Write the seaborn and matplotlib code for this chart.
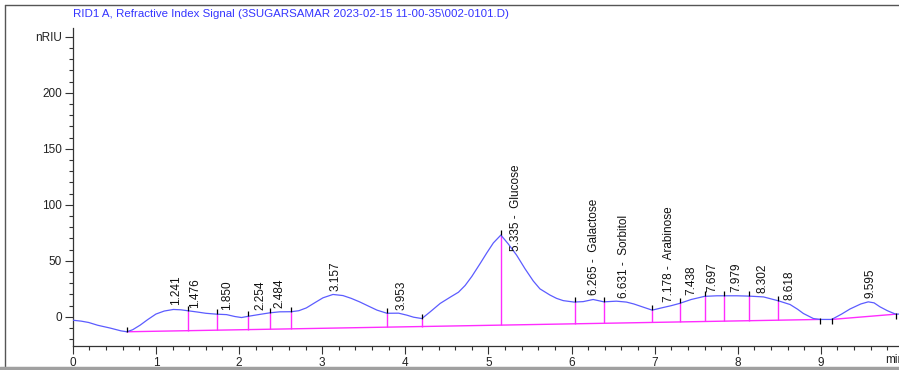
import numpy as np
import pandas as pd
import matplotlib
matplotlib.use("Agg")
import matplotlib.pyplot as plt
from matplotlib.lines import Line2D
from matplotlib.ticker import MultipleLocator, FixedLocator
import seaborn as sns

# Refractive index detector trace (time in min, signal in nRIU)
trace_t = [0.00, 0.10, 0.19, 0.30, 0.45, 0.58, 0.65, 0.72, 0.81, 0.90,
           1.00, 1.10, 1.21, 1.30, 1.39, 1.50, 1.60, 1.73, 1.85, 1.95,
           2.03, 2.11, 2.25, 2.37, 2.49, 2.63, 2.72, 2.81, 2.92, 3.01,
           3.13, 3.25, 3.35, 3.45, 3.56, 3.66, 3.78, 3.92, 4.02, 4.10,
           4.20, 4.30, 4.42, 4.55, 4.64, 4.72, 4.80, 4.90, 4.98, 5.06,
           5.15, 5.24, 5.34, 5.44, 5.54, 5.62, 5.74, 5.82, 5.90, 6.03,
           6.14, 6.26, 6.39, 6.54, 6.66, 6.75, 6.83, 6.97, 7.10, 7.20,
           7.30, 7.44, 7.60, 7.75, 7.83, 7.99, 8.14, 8.31, 8.49, 8.63,
           8.72, 8.79, 8.91, 8.99, 9.13, 9.25, 9.35, 9.48, 9.57, 9.64,
           9.71, 9.80, 9.90, 9.94]
trace_y = [-3.0, -3.8, -5.0, -7.5, -10.0, -12.5, -13.3, -11.5, -7.4, -2.5,
           2.5, 5.2, 6.6, 6.3, 5.4, 4.3, 3.2, 2.4, 2.0, 0.3,
           -0.6, 0.5, 2.2, 3.6, 4.5, 4.6, 5.5, 8.0, 13.0, 17.0,
           20.0, 19.0, 16.5, 13.4, 9.5, 6.0, 3.2, 3.3, 1.5, -0.3,
           -1.5, 4.5, 12.0, 18.0, 22.0, 28.0, 36.0, 47.5, 57.0, 66.0,
           73.0, 65.0, 55.0, 43.0, 32.0, 25.0, 19.5, 16.5, 14.5, 13.2,
           13.6, 15.5, 13.4, 14.0, 13.2, 11.5, 9.5, 6.0, 8.3, 10.0,
           12.0, 15.5, 18.3, 18.8, 18.8, 18.8, 18.5, 17.8, 14.3, 11.0,
           6.8, 3.0, -1.5, -2.3, -2.3, 2.5, 7.0, 11.5, 13.4, 12.5,
           9.0, 5.5, 2.4, 2.5]

# Integration baselines (two segments)
base1_t = [0.65, 8.99]
base1_y = [-13.3, -2.3]
base2_t = [9.13, 9.90]
base2_y = [-2.3, 2.4]

# Peak boundaries with drop lines to the baseline
drop_t = [1.39, 1.73, 2.11, 2.37, 2.63, 3.78, 4.20, 5.15, 6.04, 6.39,
          6.97, 7.30, 7.60, 7.83, 8.14, 8.49]
# Peak start/end markers drawn under the trace
under_t = [8.99, 9.13, 9.90]
over_extra_t = [0.65]

# Retention time labels
peak_rt = [1.241, 1.476, 1.850, 2.254, 2.484, 3.157, 3.953, 5.335, 6.265,
           6.631, 7.178, 7.438, 7.697, 7.979, 8.302, 8.618, 9.595]
peak_names = ["", "", "", "", "", "", "", "Glucose", "Galactose",
              "Sorbitol", "Arabinose", "", "", "", "", "", ""]

y_major = [0, 50, 100, 150, 200, 250]
y_major_labels = ["0", "50", "100", "150", "200", "nRIU"]
x_major = list(range(0, 10))

sns.set_style("ticks")
plt.rcParams["font.family"] = ["Liberation Sans", "DejaVu Sans"]

TRACE = "#5c5cff"
MAGENTA = "#ff2cff"

fig = plt.figure(figsize=(8.99, 3.70), dpi=100)
ax = fig.add_axes([72.8 / 899, 24 / 370, (899 - 72.8) / 899, 317.7 / 370])

df = pd.DataFrame({"t": trace_t, "y": trace_y})
sns.lineplot(data=df, x="t", y="y", ax=ax, color=TRACE, lw=0.9,
             estimator=None, sort=False, zorder=3)
sns.lineplot(x=base1_t, y=base1_y, ax=ax, color=MAGENTA, lw=1.0,
             estimator=None, zorder=2)
sns.lineplot(x=base2_t, y=base2_y, ax=ax, color=MAGENTA, lw=1.0,
             estimator=None, zorder=2)

drop_top = np.interp(drop_t, trace_t, trace_y)
drop_bot = np.interp(drop_t, base1_t, base1_y)
ax.vlines(drop_t, drop_bot, drop_top, color=MAGENTA, lw=1.0, zorder=2)

mark_over = np.array(over_extra_t + drop_t)
mo_y = np.interp(mark_over, trace_t, trace_y)
ax.vlines(mark_over, mo_y, mo_y + 4.5, color="black", lw=0.9, zorder=4)
mu_y = np.interp(under_t, trace_t, trace_y)
ax.vlines(under_t, mu_y - 4.5, mu_y + 1.0, color="black", lw=0.9, zorder=4)

label_y = np.interp(peak_rt, trace_t, trace_y)
for rt, ly, name in zip(peak_rt, label_y, peak_names):
    txt = f"{rt:.3f}" + (f" -  {name}" if name else "")
    ax.annotate(txt, (rt, ly), xytext=(0, 3), textcoords="offset points",
                rotation=90, ha="center", va="bottom", fontsize=8.5,
                color="#111111", zorder=5)

ax.set_xlim(0, 9.94)
ax.set_ylim(-26, 257.5)
ax.xaxis.set_major_locator(FixedLocator(x_major))
ax.xaxis.set_minor_locator(MultipleLocator(0.2))
ax.yaxis.set_major_locator(FixedLocator(y_major))
ax.set_yticklabels(y_major_labels)
ax.yaxis.set_minor_locator(MultipleLocator(10))
ax.tick_params(which="major", length=6, width=0.8, labelsize=8.5,
               colors="#333333", labelcolor="#222222", pad=2)
ax.tick_params(which="minor", length=3, width=0.8, colors="#333333")
ax.set_xlabel("")
ax.set_ylabel("")
sns.despine(ax=ax, top=True, right=True)
for s in ("left", "bottom"):
    ax.spines[s].set_linewidth(0.9)
    ax.spines[s].set_color("#333333")
ax.text(9.77, -0.025, "min", transform=ax.get_xaxis_transform(),
        ha="left", va="top", fontsize=8.5, color="#222222", clip_on=False)

fig.text(72.7 / 899, 1 - 14 / 370,
         "RID1 A, Refractive Index Signal (3SUGARSAMAR 2023-02-15 11-00-35\\002-0101.D)",
         color="#3535ff", fontsize=8.25, ha="left", va="center")

# Window frame
fig.add_artist(Line2D([5 / 899, 5 / 899], [1 - 5 / 370, 1 - 367 / 370],
                      transform=fig.transFigure, color="#555555", lw=1.0))
fig.add_artist(Line2D([5 / 899, 1], [1 - 5 / 370, 1 - 5 / 370],
                      transform=fig.transFigure, color="#555555", lw=1.0))
fig.add_artist(Line2D([0, 1], [1 - 367.5 / 370, 1 - 367.5 / 370],
                      transform=fig.transFigure, color="#a0a0a0", lw=2.5))

fig.savefig("out.png", dpi=100)
